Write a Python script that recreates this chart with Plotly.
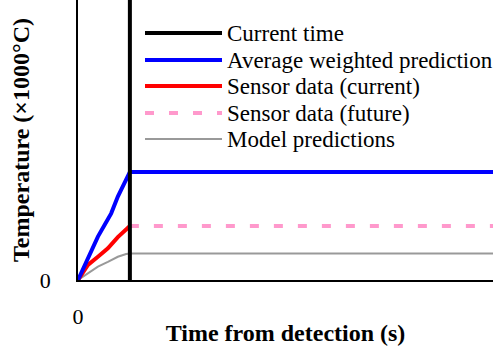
import plotly.graph_objects as go

# ---- data ----
current_time = 12.5
t_end = 100

blue_x = [0, 1.6, 3.2, 4.8, 6.4, 8.0, 9.6, 11.2, 12.2, 12.5, 100]
blue_y = [0, 0.54, 1.07, 1.55, 1.96, 2.38, 2.98, 3.51, 3.80, 3.86, 3.86]

red_x = [0, 2.4, 4.8, 7.2, 9.6, 12.0, 12.5]
red_y = [0, 0.54, 0.83, 1.13, 1.53, 1.86, 1.93]

pink_x = [12.5, 100]
pink_y = [1.93, 1.93]

gray_x = [0, 2.4, 4.8, 7.2, 9.6, 11.6, 12.5, 100]
gray_y = [0, 0.24, 0.48, 0.65, 0.83, 0.93, 0.95, 0.95]

y_top = 10

names = ["Current time", "Average weighted prediction", "Sensor data (current)",
         "Sensor data (future)", "Model predictions"]
colors = ["black", "#0000ff", "#ff0000", "#ff99cc", "#999999"]
widths = [4, 4, 4, 4, 2]
dashes = ["solid", "solid", "solid", "dash", "solid"]

FONT = "Liberation Serif, Times New Roman, serif"
PINK_DASH = "9px,15px"

fig = go.Figure()
fig.add_trace(go.Scatter(x=gray_x, y=gray_y, mode="lines", name=names[4],
                         line=dict(color=colors[4], width=widths[4])))
fig.add_trace(go.Scatter(x=pink_x, y=pink_y, mode="lines", name=names[3],
                         line=dict(color=colors[3], width=widths[3], dash=PINK_DASH)))
fig.add_trace(go.Scatter(x=red_x, y=red_y, mode="lines", name=names[2],
                         line=dict(color=colors[2], width=widths[2])))
fig.add_trace(go.Scatter(x=blue_x, y=blue_y, mode="lines", name=names[1],
                         line=dict(color=colors[1], width=widths[1])))
fig.add_trace(go.Scatter(x=[current_time, current_time], y=[0, y_top], mode="lines",
                         name=names[0], line=dict(color=colors[0], width=widths[0])))
fig.update_traces(showlegend=False)

# manual legend (long line samples)
leg_y = [1 - 33/280, 1 - 60/280, 1 - 86/280, 1 - 113/280, 1 - 139/280]
x0, x1, xt = (145-78)/415, (222-78)/415, (225-78)/415
shapes = []
annotations = []
for i, n in enumerate(names):
    shapes.append(dict(type="line", xref="paper", yref="paper", x0=x0, x1=x1,
                       y0=leg_y[i], y1=leg_y[i],
                       line=dict(color=colors[i], width=widths[i],
                                 dash=PINK_DASH if dashes[i] == "dash" else "solid")))
    annotations.append(dict(xref="paper", yref="paper", x=xt, y=leg_y[i], text=n,
                            showarrow=False, xanchor="left", yanchor="middle",
                            font=dict(family=FONT, size=23, color="black")))

fig.update_layout(
    width=504, height=346,
    margin=dict(l=78, r=11, t=0, b=66),
    plot_bgcolor="white", paper_bgcolor="white",
    font=dict(family=FONT, color="black"),
    shapes=shapes, annotations=annotations,
    xaxis=dict(range=[0, t_end], tickvals=[0], ticktext=["0"], showgrid=False,
               zeroline=False, showline=True, linecolor="black", linewidth=1.5,
               ticks="outside", ticklen=16, tickcolor="rgba(0,0,0,0)",
               tickfont=dict(family=FONT, size=22), automargin=False,
               title=dict(text="<b>Time from detection (s)</b>", standoff=11,
                          font=dict(family=FONT, size=24))),
    yaxis=dict(range=[0, y_top], tickvals=[0], ticktext=["0"], showgrid=False,
               zeroline=False, showline=True, linecolor="black", linewidth=1.5,
               ticks="outside", ticklen=21, tickcolor="rgba(0,0,0,0)",
               tickfont=dict(family=FONT, size=22), automargin=False,
               title=dict(text="<b>Temperature (×1000°C)</b>", standoff=3,
                          font=dict(family=FONT, size=24))),
)

fig.write_html("out.html")
